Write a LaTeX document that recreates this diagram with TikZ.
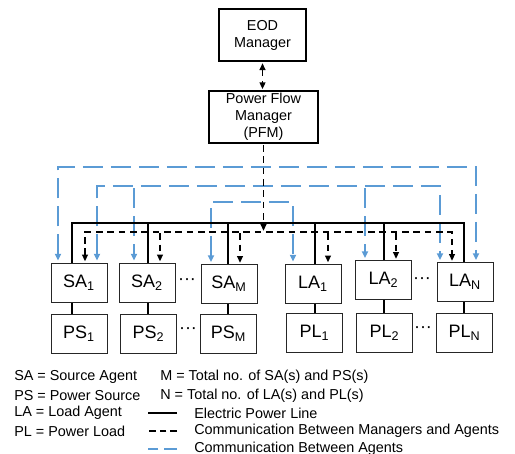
\documentclass[tikz,border=0pt]{standalone}
\usepackage{fontspec}
\setmainfont{Liberation Sans}
\usetikzlibrary{arrows.meta}
\definecolor{agentblue}{RGB}{91,155,213}

\begin{document}
\begin{tikzpicture}[x=0.75pt,y=-0.75pt,
    font=\fontsize{10.8}{12.8}\selectfont,
    >={Triangle[length=5pt,width=4.5pt]},
    box/.style={draw,line width=0.9pt,align=center,inner sep=0pt},
    agent/.style={box,line width=0.75pt,draw=black!85,minimum width=42pt,minimum height=29.25pt,
      font=\fontsize{13.5}{15}\selectfont},
    gap/.style={font=\fontsize{13.5}{15}\selectfont,inner sep=0pt},
    elec/.style={line width=1.1pt},
    mcomm/.style={line width=1.1pt,dash pattern=on 5pt off 3.5pt,shorten >=1pt,shorten <=1pt},
    acomm/.style={agentblue,line width=1.8pt,dash pattern=on 15pt off 6pt,shorten >=1.5pt,shorten <=1.5pt},
    legend/.style={anchor=west,inner sep=0pt}]
  \useasboundingbox (0,0) rectangle (515,454);

  % managers
  \node[box,line width=1.5pt,minimum width=65.25pt,minimum height=39pt] (EOD) at (262.5,35) {EOD\\Manager};
  \node[box,line width=1.1pt,minimum width=81.75pt,minimum height=39pt] (PFM) at (263.5,117) {Power Flow\\Manager\\(PFM)};

  % agents and their source / load
  \node[agent] (SA1) at (79,282.5) {SA\textsubscript{1}};
  \node[agent] (SA2) at (147,282.5) {SA\textsubscript{2}};
  \node[agent] (SAM) at (229,284) {SA\textsubscript{M}};
  \node[agent] (LA1) at (313,283.5) {LA\textsubscript{1}};
  \node[agent] (LA2) at (383.5,280) {LA\textsubscript{2}};
  \node[agent] (LAN) at (465,282) {LA\textsubscript{N}};
  \node[agent] (PS1) at (79,333.5) {PS\textsubscript{1}};
  \node[agent] (PS2) at (148.5,333.5) {PS\textsubscript{2}};
  \node[agent] (PSM) at (228.5,333.5) {PS\textsubscript{M}};
  \node[agent] (PL1) at (314.5,333) {PL\textsubscript{1}};
  \node[agent] (PL2) at (384.5,333) {PL\textsubscript{2}};
  \node[agent] (PLN) at (464.5,333) {PL\textsubscript{N}};
  \node[gap] (dSA) at (187,282) {···};
  \node[gap] (dPS) at (188,331) {···};
  \node[gap] (dLA) at (422,281) {···};
  \node[gap] (dPL) at (423,330) {···};

  % communication between agents
  \draw[acomm,<->] (58,0 |- SA1.north) |- (476,167) -- (476,0 |- LAN.north);
  \draw[acomm,<->] (97,0 |- SA1.north) |- (440,186) -- (440,0 |- LAN.north);
  \draw[acomm,->] (134,186) -- (134,0 |- SA2.north);
  \draw[acomm,->] (365,186) -- (365,0 |- LA2.north);
  \draw[acomm,<->] (211,0 |- SAM.north) |- (293,202) -- (293,0 |- LA1.north);

  % electric power line
  \coordinate (busL) at (72,223);
  \coordinate (busR) at (464,223);
  \draw[elec] (SA1.north -| busL) |- (busR) -- (LAN.north -| busR);
  \foreach \n/\x in {SA2/148,SAM/228,LA1/315,LA2/384}
    \draw[elec] (\x,223) -- (\x,0 |- \n.north);
  \foreach \a/\b/\x in {SA1/PS1/72,SA2/PS2/148,SAM/PSM/228,LA1/PL1/315,LA2/PL2/384,LAN/PLN/464}
    \draw[elec] (\x,0 |- \a.south) -- (\x,0 |- \b.north);

  % communication between managers and agents
  \draw[mcomm,<->] (EOD.south) -- (EOD.south |- PFM.north);
  \draw[mcomm,->] (PFM.south) -- (PFM.south |- 0,232);
  \draw[mcomm,<->] (85,0 |- SA1.north) |- (452,232) -- (452,0 |- LAN.north);
  \foreach \n/\x in {SA2/160,SAM/240,LA1/328,LA2/396}
    \draw[mcomm,->] (\x,232) -- (\x,0 |- \n.north);

  % legend
  \node[legend] (kSA) at (14,377) {SA = Source Agent};
  \node[legend] (kPS) at (14,396) {PS = Power Source};
  \node[legend] (kLA) at (14,413) {LA = Load Agent};
  \node[legend] (kPL) at (14,431) {PL = Power Load};
  \node[legend] (kM) at (160,377) {M = Total no. of SA(s) and PS(s)};
  \node[legend] (kN) at (160,396) {N = Total no. of LA(s) and PL(s)};
  \node[legend] (kElec) at (194,413) {Electric Power Line};
  \node[legend] (kMgr) at (194,431) {Communication Between Managers and Agents};
  \node[legend] (kAgt) at (194,449) {Communication Between Agents};
  \draw[elec] ([xshift=-12.75pt]kElec.west) -- ++(-29,0);
  \draw[line width=1.1pt,dash pattern=on 5pt off 3pt] ([xshift=-12.75pt]kMgr.west) -- ++(-29,0);
  \draw[agentblue,line width=1.8pt,dash pattern=on 10pt off 4pt] ([xshift=-12.75pt]kAgt.west) -- ++(-29,0);
\end{tikzpicture}
\end{document}
